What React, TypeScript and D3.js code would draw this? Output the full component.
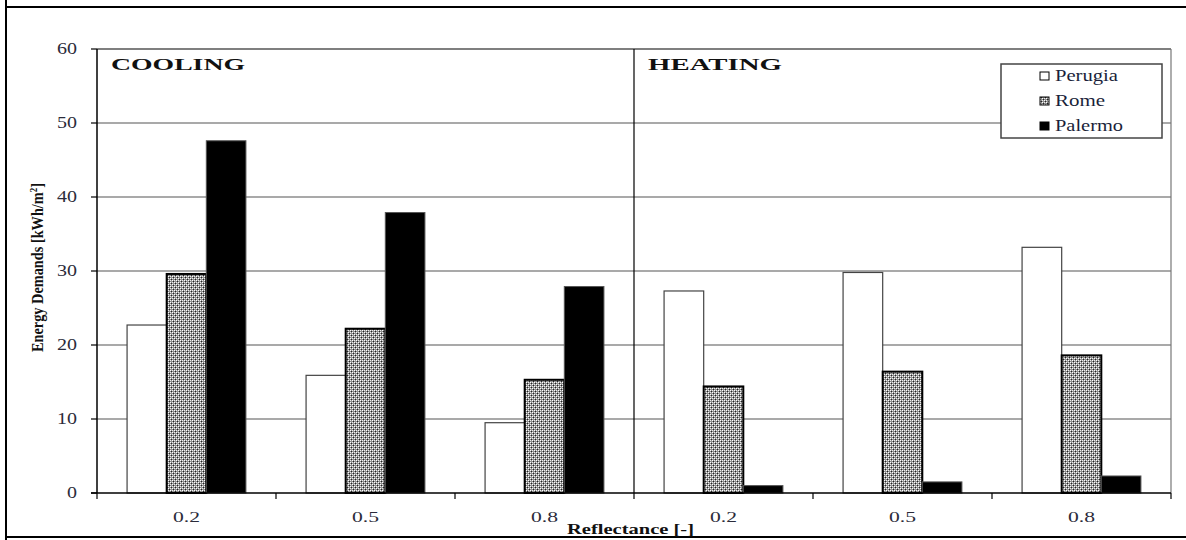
import React from "react";
import * as d3 from "d3";

const categories = ["0.2", "0.5", "0.8", "0.2", "0.5", "0.8"];
const sections = ["COOLING", "HEATING"];
const seriesNames = ["Perugia", "Rome", "Palermo"];
const perugia = [22.7, 15.9, 9.5, 27.3, 29.8, 33.2];
const rome = [29.6, 22.2, 15.3, 14.4, 16.4, 18.6];
const palermo = [47.6, 37.9, 27.9, 1.0, 1.5, 2.3];
const yTicks = [0, 10, 20, 30, 40, 50, 60];

const W = 1186;
const H = 540;
const left = 97;
const right = 1171;
const top = 49;
const bottom = 493;
const serif = "'Liberation Serif', 'Times New Roman', serif";

export default function App() {
  const keys = categories.map((c, i) => `${i}`);
  const x0 = d3.scaleBand<string>().domain(keys).range([left, right]).padding(0);
  const bw = x0.bandwidth();
  const gap = bw * 0.168;
  const x1 = d3.scaleBand<string>().domain(seriesNames).range([gap, bw - gap]).padding(0);
  const y = d3.scaleLinear().domain([0, 60]).range([bottom, top]);
  const values = [perugia, rome, palermo];
  const fills = ["#ffffff", "url(#romePat)", "#000000"];
  const strokes = ["#444", "#000", "#555"];
  const strokeW = [1.2, 2, 1];
  const mid = x0("3")!;

  return (
    <svg width={W} height={H} style={{ position: "absolute", left: 0, top: 0, background: "#fff" }}>
      <defs>
        <pattern id="romePat" width="4" height="4" patternUnits="userSpaceOnUse">
          <rect width="4" height="4" fill="#8f8f8f" />
          <rect x="0" y="0" width="1" height="1" fill="#fff" />
          <rect x="2" y="2" width="1" height="1" fill="#fff" />
          <rect x="1" y="1" width="1" height="1" fill="#222" />
          <rect x="3" y="3" width="1" height="1" fill="#222" />
          <rect x="2" y="0" width="1" height="1" fill="#eee" />
          <rect x="0" y="2" width="1" height="1" fill="#eee" />
        </pattern>
      </defs>
      {/* outer frame */}
      <line x1={6} y1={0} x2={6} y2={H} stroke="#000" strokeWidth={2} />
      <line x1={5} y1={7} x2={W} y2={7} stroke="#000" strokeWidth={2} />
      <line x1={5} y1={537} x2={W} y2={537} stroke="#000" strokeWidth={2} />

      {/* gridlines */}
      {yTicks.filter((t) => t > 0).map((t) => (
        <line key={t} x1={left} x2={right} y1={y(t)} y2={y(t)} stroke={t === 60 ? "#000" : "#555"} strokeWidth={1.2} />
      ))}
      <line x1={right} x2={right} y1={top} y2={bottom} stroke="#777" strokeWidth={1.2} />
      <line x1={mid} x2={mid} y1={top} y2={bottom} stroke="#000" strokeWidth={1.2} />

      {/* bars */}
      {values.map((vals, s) =>
        vals.map((v, i) => (
          <rect
            key={`${s}-${i}`}
            x={x0(keys[i])! + x1(seriesNames[s])!}
            y={y(v)}
            width={x1.bandwidth()}
            height={y(0) - y(v)}
            fill={fills[s]}
            stroke={strokes[s]}
            strokeWidth={strokeW[s]}
          />
        ))
      )}

      {/* axes */}
      <line x1={left} x2={left} y1={top} y2={bottom} stroke="#000" strokeWidth={1.5} />
      <line x1={left - 6} x2={right} y1={bottom} y2={bottom} stroke="#000" strokeWidth={1.5} />
      {yTicks.map((t) => (
        <g key={t}>
          <line x1={left - 6} x2={left} y1={y(t)} y2={y(t)} stroke="#000" strokeWidth={1.2} />
          <text
            x={77}
            y={y(t) + 5}
            textAnchor="end"
            fontFamily={serif}
            fontSize={16}
            fill="#2b2b3a"
            textLength={t === 0 ? 10 : 20}
            lengthAdjust="spacingAndGlyphs"
          >
            {t}
          </text>
        </g>
      ))}
      {keys.map((k) => (
        <line key={k} x1={x0(k)!} x2={x0(k)!} y1={bottom} y2={bottom + 6} stroke="#000" strokeWidth={1.2} />
      ))}
      <line x1={right} x2={right} y1={bottom} y2={bottom + 6} stroke="#000" strokeWidth={1.2} />
      {categories.map((c, i) => (
        <text
          key={i}
          x={x0(keys[i])! + bw / 2}
          y={522}
          textAnchor="middle"
          fontFamily={serif}
          fontSize={15}
          fill="#2b2b3a"
          textLength={27}
          lengthAdjust="spacingAndGlyphs"
        >
          {c}
        </text>
      ))}
      <text
        x={567}
        y={534}
        fontFamily={serif}
        fontWeight="bold"
        fontSize={15}
        fill="#111"
        textLength={127}
        lengthAdjust="spacingAndGlyphs"
      >
        Reflectance [-]
      </text>
      <text
        transform={`translate(43, 352) rotate(-90)`}
        fontFamily={serif}
        fontWeight="bold"
        fontSize={16}
        fill="#111"
        textLength={169}
        lengthAdjust="spacingAndGlyphs"
      >
        Energy Demands [kWh/m<tspan dy={-6} fontSize={10}>2</tspan><tspan dy={6}>]</tspan>
      </text>

      {/* section labels */}
      {sections.map((s, i) => (
        <text
          key={s}
          x={(i === 0 ? left : mid) + 14}
          y={70}
          fontFamily={serif}
          fontWeight="bold"
          fontSize={17}
          fill="#111"
          textLength={134}
          lengthAdjust="spacingAndGlyphs"
        >
          {s}
        </text>
      ))}

      {/* legend */}
      <rect x={1001} y={64} width={161} height={74} fill="#fff" stroke="#444" strokeWidth={1.5} />
      {seriesNames.map((n, i) => (
        <g key={n}>
          <rect x={1040} y={72 + i * 25} width={9} height={8} fill={fills[i]} stroke="#000" strokeWidth={1} />
          <text
            x={1055}
            y={81 + i * 25}
            fontFamily={serif}
            fontSize={16}
            fill="#1a1f3a"
            textLength={[63, 50, 68][i]}
            lengthAdjust="spacingAndGlyphs"
          >
            {n}
          </text>
        </g>
      ))}
    </svg>
  );
}
